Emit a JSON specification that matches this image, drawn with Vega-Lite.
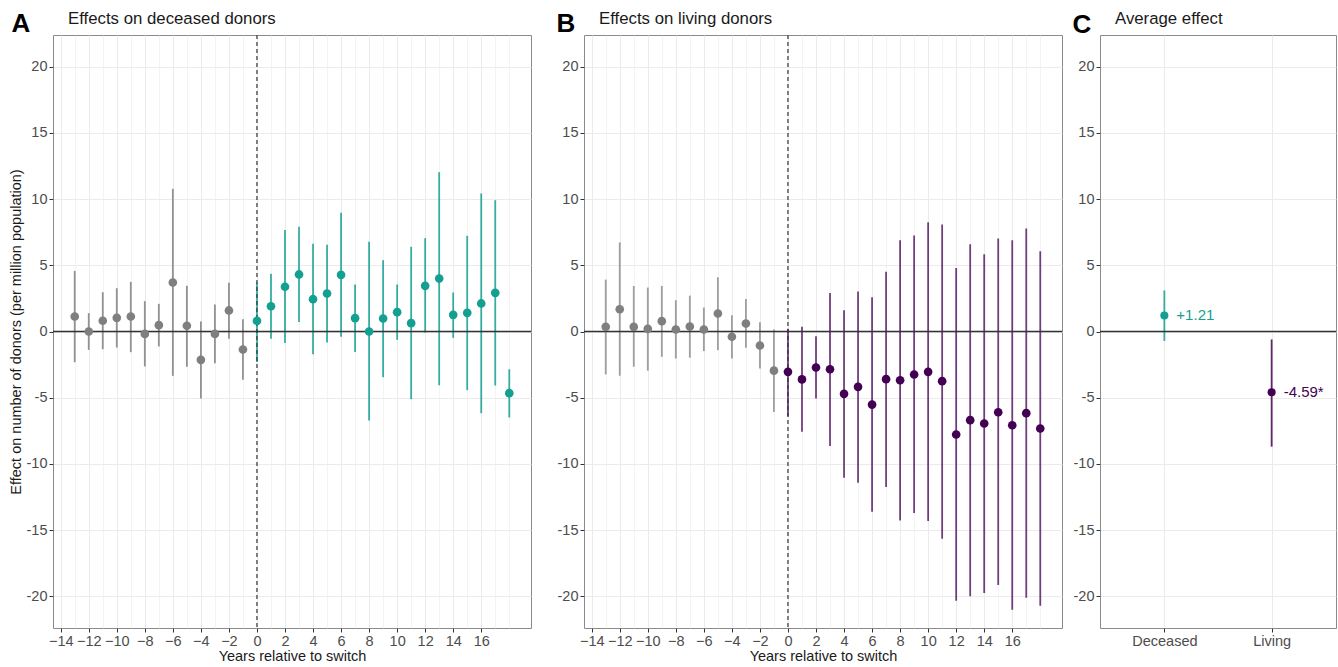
{
  "$schema": "https://vega.github.io/schema/vega-lite/v6.json",
  "background": "white",
  "padding": {"left": 7, "top": 10, "right": 2, "bottom": 2},
  "config": {
    "font": "Liberation Sans",
    "view": {"stroke": "#8a8a8a", "strokeWidth": 1},
    "axis": {
      "domain": false,
      "gridColor": "#ebebeb",
      "labelColor": "#4d4d4d",
      "labelFontSize": 14.5,
      "titleFontSize": 14.5,
      "titleFontWeight": "normal",
      "titleColor": "#1a1a1a",
      "tickColor": "#333333",
      "tickSize": 4,
      "labelPadding": 2,
      "labelOverlap": false,
      "labelFlush": false
    }
  },
  "datasets": {
    "ts": [
      {"panel": "deceased", "grp": "pre", "year": -13, "est": 1.13, "lo": -2.32, "hi": 4.58},
      {"panel": "deceased", "grp": "pre", "year": -12, "est": 0.0, "lo": -1.39, "hi": 1.39},
      {"panel": "deceased", "grp": "pre", "year": -11, "est": 0.81, "lo": -1.34, "hi": 2.97},
      {"panel": "deceased", "grp": "pre", "year": -10, "est": 1.03, "lo": -1.21, "hi": 3.27},
      {"panel": "deceased", "grp": "pre", "year": -9, "est": 1.13, "lo": -1.56, "hi": 3.75},
      {"panel": "deceased", "grp": "pre", "year": -8, "est": -0.18, "lo": -2.64, "hi": 2.29},
      {"panel": "deceased", "grp": "pre", "year": -7, "est": 0.48, "lo": -1.13, "hi": 2.09},
      {"panel": "deceased", "grp": "pre", "year": -6, "est": 3.7, "lo": -3.35, "hi": 10.78},
      {"panel": "deceased", "grp": "pre", "year": -5, "est": 0.43, "lo": -2.67, "hi": 3.45},
      {"panel": "deceased", "grp": "pre", "year": -4, "est": -2.14, "lo": -5.06, "hi": 0.76},
      {"panel": "deceased", "grp": "pre", "year": -3, "est": -0.18, "lo": -2.39, "hi": 2.04},
      {"panel": "deceased", "grp": "pre", "year": -2, "est": 1.59, "lo": -0.55, "hi": 3.68},
      {"panel": "deceased", "grp": "pre", "year": -1, "est": -1.36, "lo": -3.65, "hi": 0.93},
      {"panel": "deceased", "grp": "deceased", "year": 0, "est": 0.8, "lo": -2.3, "hi": 3.7},
      {"panel": "deceased", "grp": "deceased", "year": 1, "est": 1.91, "lo": -0.55, "hi": 4.36},
      {"panel": "deceased", "grp": "deceased", "year": 2, "est": 3.38, "lo": -0.86, "hi": 7.66},
      {"panel": "deceased", "grp": "deceased", "year": 3, "est": 4.31, "lo": 0.71, "hi": 7.91},
      {"panel": "deceased", "grp": "deceased", "year": 4, "est": 2.44, "lo": -1.71, "hi": 6.62},
      {"panel": "deceased", "grp": "deceased", "year": 5, "est": 2.87, "lo": -0.83, "hi": 6.55},
      {"panel": "deceased", "grp": "deceased", "year": 6, "est": 4.28, "lo": -0.4, "hi": 8.97},
      {"panel": "deceased", "grp": "deceased", "year": 7, "est": 1.01, "lo": -1.54, "hi": 3.55},
      {"panel": "deceased", "grp": "deceased", "year": 8, "est": 0.0, "lo": -6.73, "hi": 6.78},
      {"panel": "deceased", "grp": "deceased", "year": 9, "est": 0.98, "lo": -3.45, "hi": 5.39},
      {"panel": "deceased", "grp": "deceased", "year": 10, "est": 1.46, "lo": -0.63, "hi": 3.55},
      {"panel": "deceased", "grp": "deceased", "year": 11, "est": 0.63, "lo": -5.11, "hi": 6.4},
      {"panel": "deceased", "grp": "deceased", "year": 12, "est": 3.45, "lo": -0.08, "hi": 7.05},
      {"panel": "deceased", "grp": "deceased", "year": 13, "est": 4.0, "lo": -4.06, "hi": 12.04},
      {"panel": "deceased", "grp": "deceased", "year": 14, "est": 1.26, "lo": -0.48, "hi": 2.95},
      {"panel": "deceased", "grp": "deceased", "year": 15, "est": 1.41, "lo": -4.43, "hi": 7.23},
      {"panel": "deceased", "grp": "deceased", "year": 16, "est": 2.12, "lo": -6.17, "hi": 10.43},
      {"panel": "deceased", "grp": "deceased", "year": 17, "est": 2.92, "lo": -4.08, "hi": 9.92},
      {"panel": "deceased", "grp": "deceased", "year": 18, "est": -4.66, "lo": -6.5, "hi": -2.85},
      {"panel": "living", "grp": "pre", "year": -13, "est": 0.35, "lo": -3.24, "hi": 3.92},
      {"panel": "living", "grp": "pre", "year": -12, "est": 1.68, "lo": -3.34, "hi": 6.73},
      {"panel": "living", "grp": "pre", "year": -11, "est": 0.35, "lo": -2.66, "hi": 3.44},
      {"panel": "living", "grp": "pre", "year": -10, "est": 0.2, "lo": -2.96, "hi": 3.32},
      {"panel": "living", "grp": "pre", "year": -9, "est": 0.78, "lo": -1.91, "hi": 3.44},
      {"panel": "living", "grp": "pre", "year": -8, "est": 0.15, "lo": -2.04, "hi": 2.36},
      {"panel": "living", "grp": "pre", "year": -7, "est": 0.38, "lo": -1.98, "hi": 2.71},
      {"panel": "living", "grp": "pre", "year": -6, "est": 0.15, "lo": -1.48, "hi": 1.81},
      {"panel": "living", "grp": "pre", "year": -5, "est": 1.36, "lo": -1.41, "hi": 4.1},
      {"panel": "living", "grp": "pre", "year": -4, "est": -0.4, "lo": -2.04, "hi": 1.23},
      {"panel": "living", "grp": "pre", "year": -3, "est": 0.6, "lo": -1.23, "hi": 2.46},
      {"panel": "living", "grp": "pre", "year": -2, "est": -1.06, "lo": -2.79, "hi": 0.7},
      {"panel": "living", "grp": "pre", "year": -1, "est": -2.96, "lo": -6.08, "hi": 0.15},
      {"panel": "living", "grp": "living", "year": 0, "est": -3.05, "lo": -6.4, "hi": 0.2},
      {"panel": "living", "grp": "living", "year": 1, "est": -3.62, "lo": -7.58, "hi": 0.35},
      {"panel": "living", "grp": "living", "year": 2, "est": -2.72, "lo": -5.06, "hi": -0.35},
      {"panel": "living", "grp": "living", "year": 3, "est": -2.85, "lo": -8.65, "hi": 2.9},
      {"panel": "living", "grp": "living", "year": 4, "est": -4.71, "lo": -11.04, "hi": 1.61},
      {"panel": "living", "grp": "living", "year": 5, "est": -4.18, "lo": -11.42, "hi": 3.02},
      {"panel": "living", "grp": "living", "year": 6, "est": -5.52, "lo": -13.61, "hi": 2.59},
      {"panel": "living", "grp": "living", "year": 7, "est": -3.6, "lo": -11.75, "hi": 4.51},
      {"panel": "living", "grp": "living", "year": 8, "est": -3.68, "lo": -14.27, "hi": 6.9},
      {"panel": "living", "grp": "living", "year": 9, "est": -3.25, "lo": -13.71, "hi": 7.25},
      {"panel": "living", "grp": "living", "year": 10, "est": -3.05, "lo": -14.32, "hi": 8.26},
      {"panel": "living", "grp": "living", "year": 11, "est": -3.75, "lo": -15.65, "hi": 8.09},
      {"panel": "living", "grp": "living", "year": 12, "est": -7.78, "lo": -20.34, "hi": 4.79},
      {"panel": "living", "grp": "living", "year": 13, "est": -6.7, "lo": -20.0, "hi": 6.6},
      {"panel": "living", "grp": "living", "year": 14, "est": -6.95, "lo": -19.76, "hi": 5.84},
      {"panel": "living", "grp": "living", "year": 15, "est": -6.1, "lo": -19.16, "hi": 7.03},
      {"panel": "living", "grp": "living", "year": 16, "est": -7.08, "lo": -21.02, "hi": 6.9},
      {"panel": "living", "grp": "living", "year": 17, "est": -6.17, "lo": -20.11, "hi": 7.78},
      {"panel": "living", "grp": "living", "year": 18, "est": -7.33, "lo": -20.72, "hi": 6.07}
    ],
    "avg": [
      {"type": "Deceased", "grp": "deceased", "est": 1.21, "lo": -0.72, "hi": 3.1, "label": "+1.21"},
      {"type": "Living", "grp": "living", "est": -4.59, "lo": -8.7, "hi": -0.6, "label": "-4.59*"}
    ]
  },
  "spacing": 23,
  "hconcat": [
    {
      "title": {"text": "A", "anchor": "start", "fontSize": 26, "fontWeight": "bold", "color": "#000000", "dx": 4, "dy": 27, "offset": 0},
      "hconcat": [
        {
          "width": 478,
          "height": 593,
          "title": {"text": "Effects on deceased donors", "anchor": "start", "frame": "group", "dx": 15, "fontSize": 16.8, "fontWeight": "normal", "color": "#1a1a1a", "offset": 7},
          "data": {"name": "ts"},
          "transform": [{"filter": "datum.panel === 'deceased'"}],
          "resolve": {"axis": {"x": "independent"}},
          "layer": [
            {
              "mark": {"type": "rule", "strokeWidth": 1.8, "opacity": 0.85},
              "encoding": {
                "x": {"field": "year", "type": "quantitative", "scale": {"domain": [-14.55, 19.55], "nice": false, "zero": false},
                  "axis": {"title": "Years relative to switch", "titlePadding": 2, "labelOverlap": false,
                    "values": [-14,-12,-10,-8,-6,-4,-2,0,2,4,6,8,10,12,14,16],
                    "gridWidth": 1}},
                "y": {"field": "lo", "type": "quantitative", "scale": {"domain": [-22.4, 22.4], "nice": false, "zero": false},
                  "axis": {"title": "Effect on number of donors (per million population)", "titlePadding": 3, "labelOverlap": false,
                    "values": [-20,-17.5,-15,-12.5,-10,-7.5,-5,-2.5,0,2.5,5,7.5,10,12.5,15,17.5,20],
                    "labelExpr": "datum.value % 5 === 0 ? ('' + datum.value) : ' '",
                    "tickOpacity": {"condition": {"test": "datum.value % 5 === 0", "value": 1}, "value": 0},
                    "gridWidth": {"condition": {"test": "datum.value % 5 === 0", "value": 1}, "value": 0.6}}},
                "y2": {"field": "hi"},
                "color": {"field": "grp", "type": "nominal", "scale": {"domain": ["pre", "deceased", "living"], "range": ["#7f7f7f", "#14a091", "#440154"]}, "legend": null}
              }
            },
            {
              "data": {"values": [{}]},
              "mark": {"type": "rule", "strokeDash": [4, 3], "color": "#333333", "strokeWidth": 1.2},
              "encoding": {"x": {"datum": 0, "type": "quantitative",
                "axis": {"orient": "top", "title": null, "labels": false, "ticks": false, "domain": false, "grid": true, "gridWidth": 0.6,
                  "values": [-13,-11,-9,-7,-5,-3,-1,1,3,5,7,9,11,13,15,17,18]}}}
            },
            {
              "data": {"values": [{}]},
              "mark": {"type": "rule", "color": "#333333", "strokeWidth": 1.5},
              "encoding": {"y": {"datum": 0}}
            },
            {
              "mark": {"type": "point", "filled": true, "size": 75, "opacity": 1},
              "encoding": {
                "x": {"field": "year", "type": "quantitative", "axis": null},
                "y": {"field": "est", "type": "quantitative"},
                "color": {"field": "grp", "type": "nominal", "legend": null}
              }
            }
          ]
        }
      ]
    },
    {
      "spacing": 8,
      "hconcat": [
        {
          "title": {"text": "B", "anchor": "start", "fontSize": 26, "fontWeight": "bold", "color": "#000000", "dx": 0, "dy": 27, "offset": 0},
          "hconcat": [
            {
              "width": 478,
              "height": 593,
              "title": {"text": "Effects on living donors", "anchor": "start", "frame": "group", "dx": 15, "fontSize": 16.8, "fontWeight": "normal", "color": "#1a1a1a", "offset": 7},
              "data": {"name": "ts"},
              "transform": [{"filter": "datum.panel === 'living'"}],
              "resolve": {"axis": {"x": "independent"}},
              "layer": [
                {
                  "mark": {"type": "rule", "strokeWidth": 1.8, "opacity": 0.75},
                  "encoding": {
                    "x": {"field": "year", "type": "quantitative", "scale": {"domain": [-14.55, 19.55], "nice": false, "zero": false},
                      "axis": {"title": "Years relative to switch", "titlePadding": 2, "labelOverlap": false,
                        "values": [-14,-12,-10,-8,-6,-4,-2,0,2,4,6,8,10,12,14,16],
                        "gridWidth": 1}},
                    "y": {"field": "lo", "type": "quantitative", "scale": {"domain": [-22.4, 22.4], "nice": false, "zero": false},
                      "axis": {"title": null, "labelOverlap": false,
                        "values": [-20,-17.5,-15,-12.5,-10,-7.5,-5,-2.5,0,2.5,5,7.5,10,12.5,15,17.5,20],
                        "labelExpr": "datum.value % 5 === 0 ? ('' + datum.value) : ' '",
                        "tickOpacity": {"condition": {"test": "datum.value % 5 === 0", "value": 1}, "value": 0},
                        "gridWidth": {"condition": {"test": "datum.value % 5 === 0", "value": 1}, "value": 0.6}}},
                    "y2": {"field": "hi"},
                    "color": {"field": "grp", "type": "nominal", "scale": {"domain": ["pre", "deceased", "living"], "range": ["#7f7f7f", "#14a091", "#440154"]}, "legend": null}
                  }
                },
                {
                  "data": {"values": [{}]},
                  "mark": {"type": "rule", "strokeDash": [4, 3], "color": "#333333", "strokeWidth": 1.2},
                  "encoding": {"x": {"datum": 0, "type": "quantitative",
                    "axis": {"orient": "top", "title": null, "labels": false, "ticks": false, "domain": false, "grid": true, "gridWidth": 0.6,
                      "values": [-13,-11,-9,-7,-5,-3,-1,1,3,5,7,9,11,13,15,17,18]}}}
                },
                {
                  "data": {"values": [{}]},
                  "mark": {"type": "rule", "color": "#333333", "strokeWidth": 1.5},
                  "encoding": {"y": {"datum": 0}}
                },
                {
                  "mark": {"type": "point", "filled": true, "size": 75, "opacity": 1},
                  "encoding": {
                    "x": {"field": "year", "type": "quantitative", "axis": null},
                    "y": {"field": "est", "type": "quantitative"},
                    "color": {"field": "grp", "type": "nominal", "legend": null}
                  }
                }
              ]
            }
          ]
        },
        {
          "title": {"text": "C", "anchor": "start", "fontSize": 26, "fontWeight": "bold", "color": "#000000", "dx": 0, "dy": 27, "offset": 0},
          "hconcat": [
            {
              "width": 236,
              "height": 593,
              "title": {"text": "Average effect", "anchor": "start", "frame": "group", "dx": 15, "fontSize": 16.8, "fontWeight": "normal", "color": "#1a1a1a", "offset": 7},
              "data": {"name": "avg"},
              "layer": [
                {
                  "mark": {"type": "rule", "strokeWidth": 1.8, "opacity": 0.85},
                  "encoding": {
                    "x": {"field": "type", "type": "nominal", "scale": {"type": "point", "padding": 0.6},
                      "axis": {"title": null, "labelAngle": 0, "grid": true, "gridWidth": 1}},
                    "y": {"field": "lo", "type": "quantitative", "scale": {"domain": [-22.4, 22.4], "nice": false, "zero": false},
                      "axis": {"title": null, "labelOverlap": false,
                        "values": [-20,-17.5,-15,-12.5,-10,-7.5,-5,-2.5,0,2.5,5,7.5,10,12.5,15,17.5,20],
                        "labelExpr": "datum.value % 5 === 0 ? ('' + datum.value) : ' '",
                        "tickOpacity": {"condition": {"test": "datum.value % 5 === 0", "value": 1}, "value": 0},
                        "gridWidth": {"condition": {"test": "datum.value % 5 === 0", "value": 1}, "value": 0.6}}},
                    "y2": {"field": "hi"},
                    "color": {"field": "grp", "type": "nominal", "scale": {"domain": ["pre", "deceased", "living"], "range": ["#7f7f7f", "#14a091", "#440154"]}, "legend": null}
                  }
                },
                {
                  "data": {"values": [{}]},
                  "mark": {"type": "rule", "color": "#333333", "strokeWidth": 1.5},
                  "encoding": {"y": {"datum": 0}}
                },
                {
                  "mark": {"type": "point", "filled": true, "size": 65, "opacity": 1},
                  "encoding": {
                    "x": {"field": "type", "type": "nominal"},
                    "y": {"field": "est", "type": "quantitative"},
                    "color": {"field": "grp", "type": "nominal", "legend": null}
                  }
                },
                {
                  "mark": {"type": "text", "align": "left", "baseline": "middle", "dx": 12, "fontSize": 15},
                  "encoding": {
                    "x": {"field": "type", "type": "nominal"},
                    "y": {"field": "est", "type": "quantitative"},
                    "text": {"field": "label"},
                    "color": {"field": "grp", "type": "nominal", "legend": null}
                  }
                }
              ]
            }
          ]
        }
      ]
    }
  ]
}
